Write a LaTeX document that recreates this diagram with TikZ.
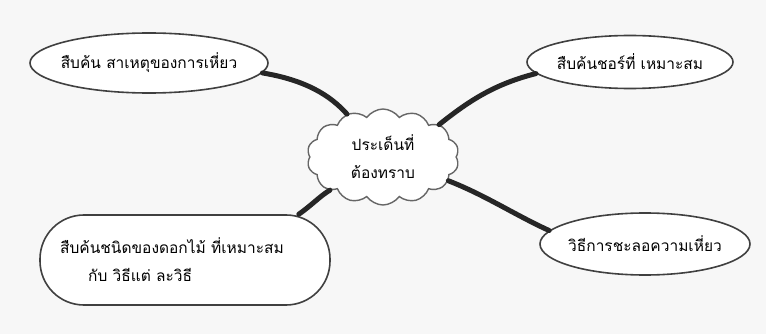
\documentclass[tikz,border=0pt]{standalone}
\usepackage{fontspec}
\newfontfamily\thaifont[Script=Thai]{Loma}
\usetikzlibrary{shapes.geometric,shapes.symbols}
\begin{document}
\begin{tikzpicture}[x=1pt,y=-1pt,
  oval/.style={ellipse, draw=black!75, line width=1.6pt, fill=white, inner sep=0pt},
  blob/.style={rectangle, rounded corners=44pt, draw=black!75, line width=1.6pt, fill=white, inner sep=0pt},
  txt/.style={font=\thaifont\fontsize{15.5}{28}\selectfont, align=center, inner sep=0pt},
  cloudbox/.style={cloud, cloud puffs=14, cloud puff arc=110, aspect=1.6, draw=black!60, line width=1.4pt, fill=white, inner sep=0pt},
  link/.style={line width=5pt, draw=black!85, line cap=round}]
\useasboundingbox (0,0) rectangle (766,334);
\fill[black!3] (0,0) rectangle (766,334);
\node[oval, minimum width=238pt, minimum height=60pt] (tl) at (149,63) {};
\node[txt] (tlt) at (tl) {สืบค้น สาเหตุของการเหี่ยว};
\node[oval, minimum width=206pt, minimum height=53pt] (tr) at (630,62) {};
\node[txt] (trt) at (tr) {สืบค้นชอร์ที่ เหมาะสม};
\node[blob, minimum width=290pt, minimum height=90pt] (bl) at (185,260) {};
\node[txt, align=left, anchor=west] (blt) at (60,260) {สืบค้นชนิดของดอกไม้ ที่เหมาะสม\\\hspace*{28pt}กับ วิธีแต่ ละวิธี};
\node[oval, minimum width=210pt, minimum height=62pt] (br) at (645,244) {};
\node[txt] (brt) at (br) {วิธีการชะลอความเหี่ยว};
\node[cloudbox, minimum width=152pt, minimum height=96pt] (c) at (383,157) {};
\node[txt] (ct) at (c) {ประเด็นที่\\ต้องทราบ};
\draw[link] (tl.-5) .. controls (305,80) and (330,95) .. (c.130);
\draw[link] (tr.187) .. controls (495,84) and (470,100) .. (c.30);
\draw[link] ([xshift=-32pt]bl.north east) .. controls (312,205) and (320,196) .. (c.212);
\draw[link] (br.172) .. controls (515,215) and (485,195) .. (c.-20);
\end{tikzpicture}
\end{document}
